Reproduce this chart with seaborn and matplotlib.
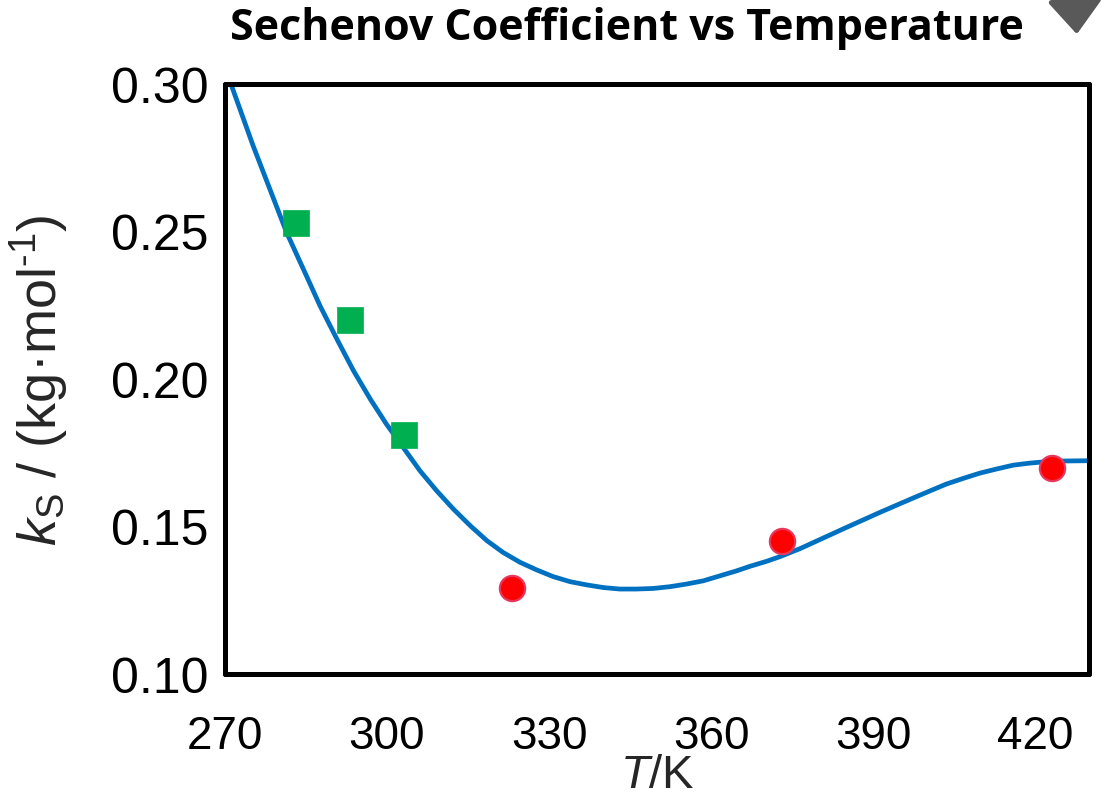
import matplotlib
matplotlib.use('Agg')
import matplotlib.pyplot as plt
import seaborn as sns
import pandas as pd

# ---- data ----
T_square = [283.15, 293.15, 303.15]
ks_square = [0.253, 0.220, 0.181]
T_circle = [323.15, 373.15, 423.15]
ks_circle = [0.129, 0.145, 0.170]
curve_T = [271.1, 275.2, 278.3, 281.4, 284.5, 287.6, 290.7, 293.8, 296.9, 299.9,
           303.0, 306.1, 309.2, 312.3, 315.4, 318.5, 321.5, 324.6, 327.7, 330.8,
           333.9, 337.0, 340.1, 343.1, 346.2, 349.3, 352.4, 355.5, 358.6, 361.7,
           364.8, 367.2, 370.3, 372.8, 376.5, 379.0, 385.1, 391.3, 397.5, 400.6,
           403.6, 406.7, 409.8, 412.9, 416.0, 419.1, 422.2, 425.2, 429.9]
curve_ks = [0.3000, 0.2791, 0.2644, 0.2497, 0.2373, 0.2248, 0.2136, 0.2028, 0.1932, 0.1847,
            0.1768, 0.1689, 0.1621, 0.1559, 0.1503, 0.1452, 0.1412, 0.1379, 0.1353, 0.1330,
            0.1313, 0.1302, 0.1293, 0.1288, 0.1288, 0.1290, 0.1296, 0.1305, 0.1316, 0.1333,
            0.1350, 0.1365, 0.1382, 0.1398, 0.1425, 0.1446, 0.1497, 0.1548, 0.1597, 0.1621,
            0.1644, 0.1663, 0.1681, 0.1695, 0.1708, 0.1715, 0.1720, 0.1722, 0.1723]
x_ticks = [270, 300, 330, 360, 390, 420]
y_ticks = [0.10, 0.15, 0.20, 0.25, 0.30]
title = "Sechenov Coefficient vs Temperature"

sns.set_style("white")
plt.rcParams['font.family'] = ['Liberation Sans', 'DejaVu Sans']
plt.rcParams['mathtext.fontset'] = 'custom'
plt.rcParams['mathtext.rm'] = 'Liberation Sans'
plt.rcParams['mathtext.it'] = 'Liberation Sans:italic'

W, H = 1107, 803
fig = plt.figure(figsize=(W / 100, H / 100), dpi=100)
ax = fig.add_axes([225 / W, 128 / H, 864 / W, 590 / H])

df_curve = pd.DataFrame({"T": curve_T, "ks": curve_ks})
df_sq = pd.DataFrame({"T": T_square, "ks": ks_square})
df_ci = pd.DataFrame({"T": T_circle, "ks": ks_circle})

sns.lineplot(data=df_curve, x="T", y="ks", ax=ax, color="#0070C0", linewidth=3.4,
             sort=False, solid_capstyle='round', solid_joinstyle='round', zorder=2)
sns.scatterplot(data=df_sq, x="T", y="ks", ax=ax, marker="s", s=340, color="#00B050",
                edgecolor="#00B050", linewidth=0.5, zorder=3)
sns.scatterplot(data=df_ci, x="T", y="ks", ax=ax, marker="o", s=330, color="#FF0000",
                edgecolor="#E8365D", linewidth=1.6, zorder=3)

ax.set_xlim(270, 430)
ax.set_ylim(0.10, 0.30)
ax.set_xticks(x_ticks)
ax.set_yticks(y_ticks)
ax.set_xticklabels([str(t) for t in x_ticks])
ax.set_yticklabels([f"{v:.2f}" for v in y_ticks])

for sp in ax.spines.values():
    sp.set_visible(True)
    sp.set_color('black')
    sp.set_linewidth(3.6)
    sp.set_capstyle('round')
    sp.set_joinstyle('round')

ax.tick_params(axis='x', direction='in', length=11, width=3, labelsize=33, pad=29, colors='black')
ax.tick_params(axis='y', direction='in', length=11, width=3, labelsize=36, pad=12, colors='black')

ax.set_xlabel(r"$T$/K", fontsize=34, labelpad=-4)
ax.set_ylabel(r"$k_{\rm S}$ / (kg·mol$^{\rm {\text{-}}1}$)", fontsize=39)
ax.yaxis.set_label_coords(-0.178, 0.5)

fig.text(627 / W, 1 - 29 / H, title, ha='center', va='center', fontsize=31,
         fontweight='bold', family=['Open Sans', 'DejaVu Sans'], color='black')

# gray arrow at top right (partly outside the figure)
fig.add_artist(matplotlib.patches.FancyArrowPatch(
    (1073 / W, 1 + 30 / H), (1077 / W, 1 - 38 / H), transform=fig.transFigure,
    arrowstyle='-|>,head_length=1.05,head_width=0.85', mutation_scale=20,
    color='#595959', linewidth=3.6, clip_on=False))

fig.savefig("out.png", dpi=100)
